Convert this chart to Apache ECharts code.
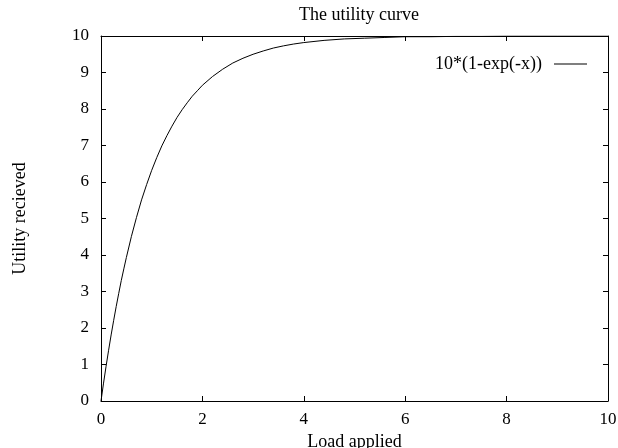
<!DOCTYPE html>
<html><head><meta charset="utf-8">
<script src="https://cdn.jsdelivr.net/npm/echarts@6/dist/echarts.min.js"></script>
<style>html,body{margin:0;padding:0;background:#fff}#c{width:618px;height:448px}</style>
</head><body><div id="c"></div>
<script>
const titleText = "The utility curve";
const xName = "Load applied";
const yName = "Utility recieved";
const seriesName = "10*(1-exp(-x))";
const xTicks = [0, 2, 4, 6, 8, 10];
const yTicks = [0, 1, 2, 3, 4, 5, 6, 7, 8, 9, 10];
// points
const loadX = [0, 0.05, 0.1, 0.15, 0.2, 0.25, 0.3, 0.35, 0.4, 0.45, 0.5, 0.6, 0.7, 0.8, 0.9, 1.0, 1.1, 1.2, 1.3, 1.4, 1.5, 1.6, 1.7, 1.8, 1.9, 2.0, 2.2, 2.4, 2.6, 2.8, 3.0, 3.2, 3.4, 3.6, 3.8, 4.0, 4.4, 4.8, 5.2, 5.6, 6.0, 6.5, 7, 7.5, 8, 9, 10];
const utilityY = [0, 0.49, 0.95, 1.39, 1.81, 2.21, 2.59, 2.95, 3.30, 3.62, 3.93, 4.51, 5.03, 5.51, 5.93, 6.32, 6.67, 6.99, 7.27, 7.53, 7.77, 7.98, 8.17, 8.35, 8.50, 8.65, 8.89, 9.09, 9.26, 9.39, 9.50, 9.59, 9.67, 9.73, 9.78, 9.82, 9.88, 9.92, 9.94, 9.96, 9.98, 9.98, 9.99, 9.99, 10.0, 10.0, 10.0];

const font = "Liberation Serif";
const fs = 17;
const fsText = 18;
const chart = echarts.init(document.getElementById('c'), null, {renderer: 'canvas'});
const axisCommon = {
  type: 'value', min: 0, max: 10,
  axisLine: {show: true, onZero: false, lineStyle: {color: '#000', width: 1}},
  axisTick: {show: true, inside: true, length: 5, lineStyle: {color: '#000'}},
  splitLine: {show: false}
};
chart.setOption({
  animation: false,
  backgroundColor: '#fff',
  title: {text: titleText, left: 354, top: 1, textAlign: 'center',
    textStyle: {fontFamily: font, fontSize: fsText, fontWeight: 'normal', color: '#000'}},
  legend: {right: 26, top: 50, align: 'right', itemWidth: 33, itemHeight: 1, itemGap: 0,
    textStyle: {fontFamily: font, fontSize: fsText, color: '#000', padding: [0, 7, 0, 0]},
    data: [{name: seriesName, icon: 'rect', itemStyle: {color: '#000'}}]},
  grid: {left: 101, right: 10, top: 36, bottom: 47, containLabel: false, outerBoundsMode: 'none'},
  xAxis: [
    Object.assign({}, axisCommon, {position: 'bottom', interval: 2,
      name: xName, nameLocation: 'middle', nameGap: 31,
      nameTextStyle: {fontFamily: font, fontSize: fsText, color: '#000'},
      axisLabel: {fontFamily: font, fontSize: fs, color: '#000', margin: 10,
        formatter: v => xTicks.includes(v) ? String(v) : ''}}),
    Object.assign({}, axisCommon, {position: 'top', interval: 2, axisLabel: {show: false}})
  ],
  yAxis: [
    Object.assign({}, axisCommon, {position: 'left', interval: 1,
      name: yName, nameLocation: 'middle', nameGap: 72,
      nameTextStyle: {fontFamily: font, fontSize: fsText, color: '#000'},
      axisLabel: {fontFamily: font, fontSize: fs, color: '#000', margin: 12,
        formatter: v => yTicks.includes(v) ? String(v) : ''}}),
    Object.assign({}, axisCommon, {position: 'right', interval: 1, axisLabel: {show: false}})
  ],
  series: [{
    name: seriesName, type: 'line', xAxisIndex: 0, yAxisIndex: 0,
    data: loadX.map((x, i) => [x, utilityY[i]]),
    showSymbol: false, symbol: 'none', smooth: false,
    lineStyle: {color: '#000', width: 1}, itemStyle: {color: '#000'}
  }]
});
</script></body></html>
